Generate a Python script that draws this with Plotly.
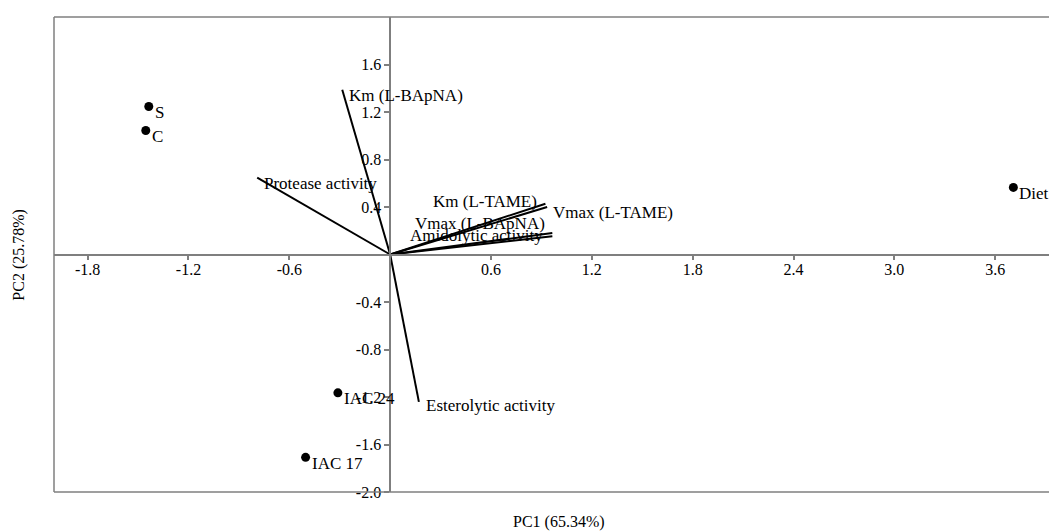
import plotly.graph_objects as go

# Scores (observations)
obs_names = ["S", "C", "Diet", "IAC 24", "IAC 17"]
obs_pc1 = [-1.436, -1.454, 3.708, -0.311, -0.503]
obs_pc2 = [1.246, 1.044, 0.565, -1.165, -1.708]

# Loadings (variables)
var_names = ["Km (L-BApNA)", "Protease activity", "Esterolytic activity",
             "Km (L-TAME)", "Vmax (L-TAME)", "Vmax (L-BApNA)", "Amidolytic activity"]
var_pc1 = [-0.285, -0.791, 0.171, 0.924, 0.934, 0.965, 0.965]
var_pc2 = [1.387, 0.647, -1.241, 0.428, 0.400, 0.181, 0.153]

x_ticks = [-1.8, -1.2, -0.6, 0.6, 1.2, 1.8, 2.4, 3.0, 3.6]
y_ticks = [1.6, 1.2, 0.8, 0.4, -0.4, -0.8, -1.2, -1.6, -2.0]

x_range = [-2.0, 3.92]
y_range = [-2.0, 2.0]

FONT = "Liberation Serif, Times New Roman, serif"
AXIS_GRAY = "#7f7f7f"

# label placement (pixel offsets relative to end point): (xanchor, xshift, yshift)
var_label_pos = {
    "Km (L-BApNA)": ("left", 5, -6),
    "Protease activity": ("left", 5, -6),
    "Esterolytic activity": ("left", 5, -4),
    "Km (L-TAME)": ("right", -6, 2),
    "Vmax (L-TAME)": ("left", 4, -5),
    "Vmax (L-BApNA)": ("right", -5, 10),
    "Amidolytic activity": ("right", -7, 1),
}

fig = go.Figure()

for name, x, y in zip(var_names, var_pc1, var_pc2):
    fig.add_trace(go.Scatter(x=[0, x], y=[0, y], mode="lines",
                             line=dict(color="black", width=2),
                             hoverinfo="skip", showlegend=False))

fig.add_trace(go.Scatter(x=obs_pc1, y=obs_pc2, mode="markers",
                         marker=dict(color="black", size=9),
                         hoverinfo="skip", showlegend=False))

annotations = []
for name, x, y in zip(obs_names, obs_pc1, obs_pc2):
    annotations.append(dict(x=x, y=y, xref="x", yref="y", text=name, showarrow=False,
                            xanchor="left", yanchor="middle", xshift=4, yshift=-6,
                            font=dict(family=FONT, size=17, color="black")))
for name, x, y in zip(var_names, var_pc1, var_pc2):
    xa, xs, ys = var_label_pos[name]
    annotations.append(dict(x=x, y=y, xref="x", yref="y", text=name, showarrow=False,
                            xanchor=xa, yanchor="middle", xshift=xs, yshift=ys,
                            font=dict(family=FONT, size=17, color="black")))

annotations.append(dict(x=0.508, y=0.0, xref="paper", yref="paper", yshift=-30,
                        text="PC1 (65.34%)", showarrow=False, xanchor="center",
                        yanchor="middle", font=dict(family=FONT, size=16, color="black")))
annotations.append(dict(x=-0.036, y=0.5, xref="paper", yref="paper",
                        text="PC2 (25.78%)", showarrow=False, textangle=-90,
                        xanchor="center", yanchor="middle",
                        font=dict(family=FONT, size=16, color="black")))

shapes = [
    dict(type="line", xref="paper", yref="paper", x0=0, x1=0, y0=0, y1=1,
         line=dict(color=AXIS_GRAY, width=1.5)),
    dict(type="line", xref="paper", yref="paper", x0=0, x1=1, y0=1, y1=1,
         line=dict(color=AXIS_GRAY, width=1.5)),
    dict(type="line", xref="paper", yref="paper", x0=0, x1=1, y0=0, y1=0,
         line=dict(color=AXIS_GRAY, width=1.5)),
]

x_pos = (0 - y_range[0]) / (y_range[1] - y_range[0])
y_pos = (0 - x_range[0]) / (x_range[1] - x_range[0])

fig.update_layout(
    width=1049, height=531,
    margin=dict(l=54, r=0, t=17, b=39),
    paper_bgcolor="white", plot_bgcolor="white",
    font=dict(family=FONT, size=16, color="black"),
    xaxis=dict(range=x_range, anchor="free", position=x_pos,
               showline=True, linecolor=AXIS_GRAY, linewidth=1.5,
               ticks="outside", ticklen=5, tickcolor=AXIS_GRAY, tickwidth=1.5,
               tickvals=x_ticks, ticktext=[f"{v:.1f}" for v in x_ticks],
               ticklabelstandoff=-4,
               showgrid=False, zeroline=False,
               tickfont=dict(family=FONT, size=16, color="black")),
    yaxis=dict(range=y_range, anchor="free", position=y_pos,
               showline=True, linecolor=AXIS_GRAY, linewidth=1.5,
               ticks="outside", ticklen=5, tickcolor=AXIS_GRAY, tickwidth=1.5,
               tickvals=y_ticks, ticktext=[f"{v:.1f}" for v in y_ticks],
               showgrid=False, zeroline=False,
               tickfont=dict(family=FONT, size=16, color="black")),
    annotations=annotations,
    shapes=shapes,
    showlegend=False,
)

# remove the default page margin so the 1049x531 figure fills the window exactly
fig.write_html("out.html",
               config={"displayModeBar": False},
               post_script="document.body.style.margin='0';document.body.style.overflow='hidden';")
